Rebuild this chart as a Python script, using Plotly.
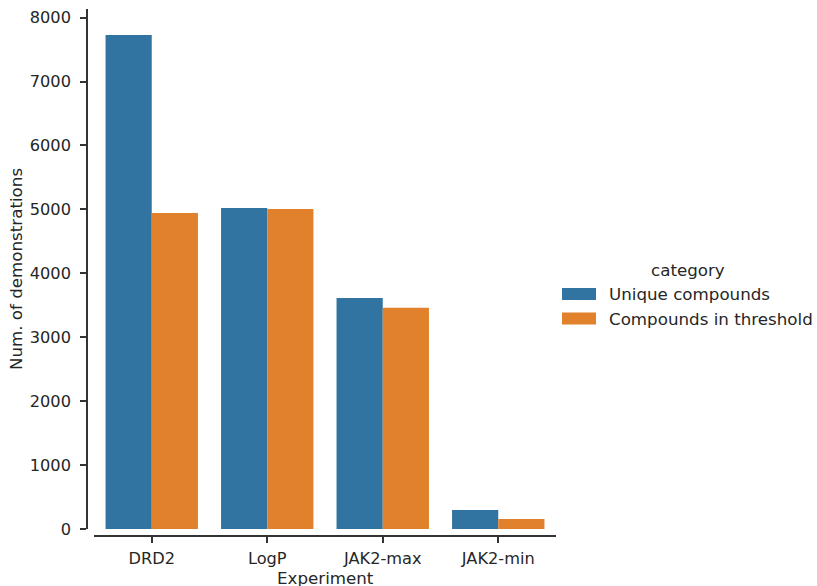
import plotly.graph_objects as go

experiments = ["DRD2", "LogP", "JAK2-max", "JAK2-min"]
unique_compounds = [7730, 5022, 3614, 297]
compounds_in_threshold = [4945, 5008, 3462, 156]
series_names = ["Unique compounds", "Compounds in threshold"]
colors = ["#3274a1", "#e1812c"]
y_ticks = [0, 1000, 2000, 3000, 4000, 5000, 6000, 7000, 8000]

W, H = 817, 586
ML, MR, MT, MB = 87, 261, 9, 50
PW, PH = W - ML - MR, H - MT - MB
OFF = 7


def px(x):
    return (x - ML) / PW


def py(y):
    return (H - MB - y) / PH


fig = go.Figure()
for name, vals, col in zip(series_names, [unique_compounds, compounds_in_threshold], colors):
    fig.add_trace(go.Bar(x=experiments, y=vals, name=name, marker_color=col,
                         marker_line_width=0, showlegend=False))

font = "DejaVu Sans"
fig.update_layout(
    width=W, height=H,
    margin=dict(l=ML, r=MR, t=MT, b=MB, pad=0),
    paper_bgcolor="white", plot_bgcolor="white",
    barmode="group", bargap=0.2, bargroupgap=0,
    font=dict(family=font, size=16, color="#262626"),
    xaxis=dict(domain=[OFF / PW, 1], range=[-0.5, 3.5], anchor="free", position=0,
               showline=True, linecolor="#333333", linewidth=1.6,
               ticks="outside", ticklen=6, tickwidth=1.6, tickcolor="#333333",
               showgrid=False, zeroline=False, tickfont=dict(size=16.2),
               ticklabelstandoff=2, automargin=False),
    yaxis=dict(domain=[OFF / PH, 1], range=[0, 8135], anchor="free", position=0,
               showline=True, linecolor="#333333", linewidth=1.6,
               ticks="outside", ticklen=6, tickwidth=1.6, tickcolor="#333333",
               tickvals=y_ticks, showgrid=False, zeroline=False,
               tickfont=dict(size=16.2), ticklabelstandoff=6, automargin=False,
               title=dict(text="Num. of demonstrations", font=dict(size=16.7), standoff=2)),
)

# x-axis title
fig.add_annotation(x=px(325), y=py(578), xref="paper", yref="paper", text="Experiment",
                   showarrow=False, xanchor="center", yanchor="middle",
                   font=dict(size=16.7, color="#262626"))

# Legend (drawn manually to match wide patches)
fig.add_annotation(x=px(688), y=py(270), xref="paper", yref="paper", text="category",
                   showarrow=False, xanchor="center", yanchor="middle",
                   font=dict(size=16.7, color="#262626"))
rows = [294, 318.5]
for name, col, yc in zip(series_names, colors, rows):
    fig.add_shape(type="rect", xref="paper", yref="paper",
                  x0=px(562), x1=px(596), y0=py(yc - 6), y1=py(yc + 6),
                  fillcolor=col, line_width=0)
    fig.add_annotation(x=px(607), y=py(yc), xref="paper", yref="paper", text=name,
                       showarrow=False, xanchor="left", yanchor="middle",
                       font=dict(size=16.7, color="#262626"))

fig.write_html("out.html", config={"displayModeBar": False},
               post_script="document.body.style.margin='0';document.body.style.overflow='hidden';")
